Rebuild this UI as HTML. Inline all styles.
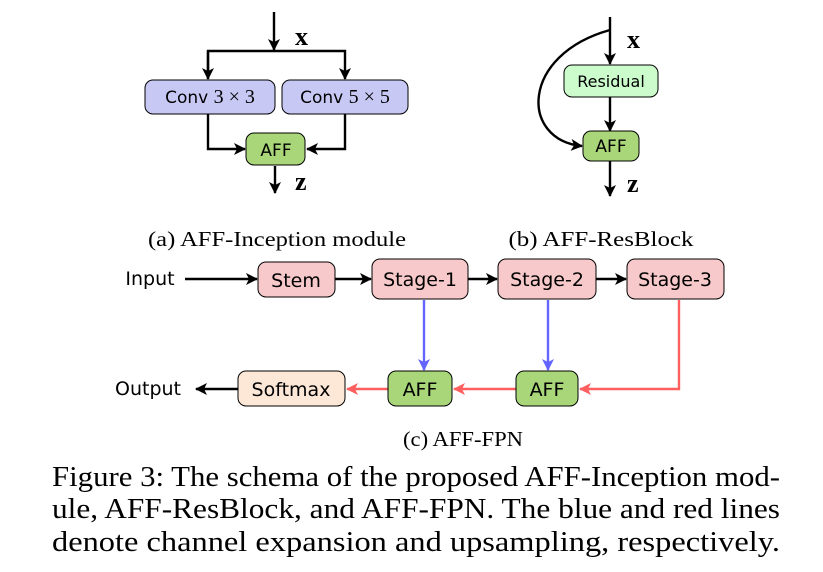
<!DOCTYPE html>
<html><head><style>
html,body{margin:0;padding:0;background:#fff;}
svg{display:block}
.s{font-family:"DejaVu Sans","Liberation Sans",sans-serif;}
.r{font-family:"Liberation Serif",serif;}
</style></head><body>
<svg width="823" height="572" viewBox="0 0 823 572" xmlns="http://www.w3.org/2000/svg">
<defs>
<marker id="ak" markerWidth="12" markerHeight="12" refX="11" refY="6" orient="auto" markerUnits="userSpaceOnUse"><path d="M0,0 L12,6 L0,12 L3,6 Z" fill="#000"/></marker>
<marker id="ab" markerWidth="12" markerHeight="12" refX="11" refY="6" orient="auto" markerUnits="userSpaceOnUse"><path d="M0,0 L12,6 L0,12 L3,6 Z" fill="#6464ff"/></marker>
<marker id="ar" markerWidth="12" markerHeight="12" refX="11" refY="6" orient="auto" markerUnits="userSpaceOnUse"><path d="M0,0 L12,6 L0,12 L3,6 Z" fill="#ff5f5f"/></marker>
</defs>
<g stroke="#000" stroke-width="2.4" fill="none">
<line x1="274" y1="12" x2="274" y2="50" marker-end="url(#ak)"/>
<polyline points="208,79 208,51 345,51 345,79" marker-end="url(#ak)"/>
<line x1="208" y1="51" x2="208" y2="79" marker-end="url(#ak)"/>
<polyline points="208,114 208,149 245,149" marker-end="url(#ak)"/>
<polyline points="345,114 345,149 307,149" marker-end="url(#ak)"/>
<line x1="275" y1="166" x2="275" y2="193" marker-end="url(#ak)"/>
<line x1="610" y1="17" x2="610" y2="64" marker-end="url(#ak)"/>
<line x1="610" y1="97" x2="610" y2="131" marker-end="url(#ak)"/>
<path d="M610,30 C520,55 520,140 582,146" marker-end="url(#ak)"/>
<line x1="610" y1="161" x2="610" y2="196" marker-end="url(#ak)"/>
<line x1="185" y1="279" x2="257" y2="279" marker-end="url(#ak)"/>
<line x1="335" y1="279" x2="371" y2="279" marker-end="url(#ak)"/>
<line x1="468" y1="279" x2="497" y2="279" marker-end="url(#ak)"/>
<line x1="596" y1="279" x2="626" y2="279" marker-end="url(#ak)"/>
<line x1="238" y1="389" x2="196" y2="389" marker-end="url(#ak)"/>
</g>
<g stroke-width="2.4" fill="none">
<line x1="424" y1="300" x2="424" y2="370" stroke="#6464ff" marker-end="url(#ab)"/>
<line x1="548" y1="300" x2="548" y2="370" stroke="#6464ff" marker-end="url(#ab)"/>
<polyline points="679,300 679,389 580,389" stroke="#ff5f5f" marker-end="url(#ar)"/>
<line x1="516" y1="389" x2="454" y2="389" stroke="#ff5f5f" marker-end="url(#ar)"/>
<line x1="388" y1="389" x2="347" y2="389" stroke="#ff5f5f" marker-end="url(#ar)"/>
</g>
<g stroke="#000" stroke-width="1">
<rect x="145" y="80" width="130" height="34" rx="8" fill="#c8c8f5"/>
<rect x="282" y="80" width="126" height="34" rx="8" fill="#c8c8f5"/>
<rect x="246" y="133" width="59" height="32" rx="8" fill="#a8d679"/>
<rect x="564" y="65" width="94" height="32" rx="8" fill="#ccfccc"/>
<rect x="583" y="131" width="56" height="30" rx="8" fill="#a8d679"/>
<rect x="258" y="262" width="77" height="35" rx="8" fill="#f7c9ca"/>
<rect x="372" y="259" width="96" height="40" rx="8" fill="#f7c9ca"/>
<rect x="498" y="259" width="98" height="40" rx="8" fill="#f7c9ca"/>
<rect x="627" y="259" width="97" height="40" rx="8" fill="#f7c9ca"/>
<rect x="238" y="371" width="107" height="35" rx="8" fill="#fde8d8"/>
<rect x="388" y="371" width="64" height="35" rx="8" fill="#a8d679"/>
<rect x="516" y="371" width="62" height="35" rx="8" fill="#a8d679"/>
</g>
<g class="s" font-size="17" fill="#000" text-anchor="middle">
<text x="210" y="103">Conv <tspan class="r" font-size="20">3 × 3</tspan></text>
<text x="345" y="103">Conv <tspan class="r" font-size="20">5 × 5</tspan></text>
<text x="276" y="156">AFF</text>
<text x="611" y="87" font-size="16">Residual</text>
<text x="611" y="152">AFF</text>
<text x="296" y="287" font-size="19">Stem</text>
<text x="420" y="286" font-size="19">Stage-1</text>
<text x="547" y="286" font-size="19">Stage-2</text>
<text x="675" y="286" font-size="19">Stage-3</text>
<text x="291" y="396" font-size="19">Softmax</text>
<text x="420" y="396" font-size="19">AFF</text>
<text x="547" y="396" font-size="19">AFF</text>
<text x="150" y="285" font-size="19">Input</text>
<text x="148" y="395" font-size="19">Output</text>
</g>
<g class="r" fill="#000">
<text x="295" y="45" font-size="26" font-weight="bold">x</text>
<text x="295" y="190" font-size="26" font-weight="bold">z</text>
<text x="627" y="48" font-size="26" font-weight="bold">x</text>
<text x="627" y="192" font-size="26" font-weight="bold">z</text>
<text x="277" y="246" font-size="21" text-anchor="middle" textLength="258" lengthAdjust="spacingAndGlyphs">(a) AFF-Inception module</text>
<text x="601" y="246" font-size="21" text-anchor="middle" textLength="185" lengthAdjust="spacingAndGlyphs">(b) AFF-ResBlock</text>
<text x="463" y="446" font-size="21" text-anchor="middle" textLength="120" lengthAdjust="spacingAndGlyphs">(c) AFF-FPN</text>
<text x="52" y="486" font-size="29" textLength="728" lengthAdjust="spacingAndGlyphs">Figure 3: The schema of the proposed AFF-Inception mod-</text>
<text x="52" y="518" font-size="29" textLength="728" lengthAdjust="spacingAndGlyphs">ule, AFF-ResBlock, and AFF-FPN. The blue and red lines</text>
<text x="52" y="551" font-size="29" textLength="728" lengthAdjust="spacingAndGlyphs">denote channel expansion and upsampling, respectively.</text>
</g>
</svg>
</body></html>
